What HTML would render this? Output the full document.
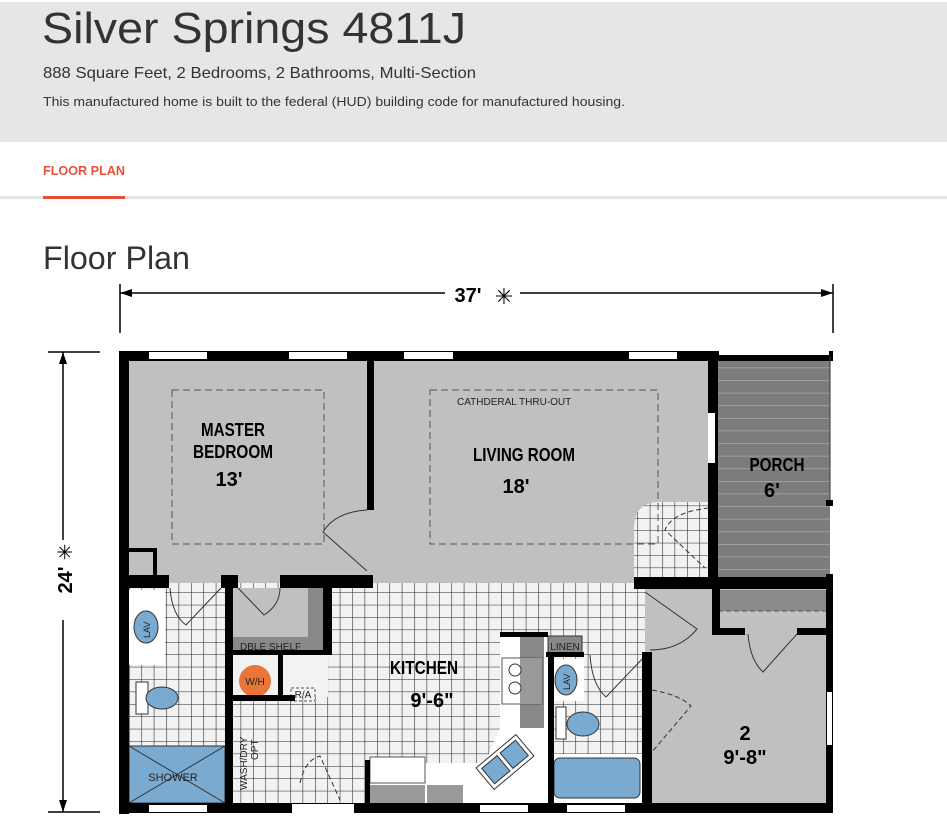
<!DOCTYPE html>
<html><head><meta charset="utf-8"><style>
html,body{margin:0;padding:0;background:#fff;width:947px;height:839px;overflow:hidden}
svg{display:block}
.r{font-family:"Liberation Sans",sans-serif}
.n{font-family:"Liberation Sans Narrow","Liberation Sans",sans-serif;font-weight:bold;fill:#000}
.s{font-family:"Liberation Sans Narrow","Liberation Sans",sans-serif;fill:#222}
</style></head><body>
<svg width="947" height="839" viewBox="0 0 947 839" xmlns="http://www.w3.org/2000/svg">
<defs>
<pattern id="t" x="129" y="580" width="12.4" height="12.4" patternUnits="userSpaceOnUse">
<rect width="12.4" height="12.4" fill="#f2f2f2"/>
<path d="M0 0H12.4M0 0V12.4" stroke="#222" stroke-width="1.1"/>
</pattern>
<pattern id="p" x="0" y="355" width="12" height="12.6" patternUnits="userSpaceOnUse">
<rect width="12" height="12.6" fill="#7b7c7e"/>
<path d="M0 0H12" stroke="#b5b5b5" stroke-width="1.2"/>
</pattern>
</defs>
<!-- header -->
<rect x="0" y="2" width="947" height="140" fill="#e6e6e6"/>
<text x="42" y="43" class="r" font-size="44" fill="#333" textLength="424" lengthAdjust="spacingAndGlyphs">Silver Springs 4811J</text>
<text x="43" y="78" class="r" font-size="16" fill="#333" textLength="433" lengthAdjust="spacingAndGlyphs">888 Square Feet, 2 Bedrooms, 2 Bathrooms, Multi-Section</text>
<text x="43" y="106" class="r" font-size="13" fill="#333" textLength="582" lengthAdjust="spacingAndGlyphs">This manufactured home is built to the federal (HUD) building code for manufactured housing.</text>
<text x="43" y="175" class="r" font-size="13" font-weight="bold" fill="#e8503a" textLength="82" lengthAdjust="spacingAndGlyphs">FLOOR PLAN</text>
<rect x="0" y="196" width="947" height="3" fill="#e4e4e4"/>
<rect x="43" y="196" width="82" height="3" fill="#e8503a"/>
<text x="43" y="269" class="r" font-size="32" fill="#333" textLength="147" lengthAdjust="spacingAndGlyphs">Floor Plan</text>

<!-- dimensions -->
<g stroke="#000" stroke-width="1.5" fill="none">
<path d="M120 284V333M833 284V333M120 293H445M520 293H833"/>
<path d="M48 352H100M48 812H100M63 352V540M63 620V812"/>
</g>
<path d="M120 293l12 -4v8z M833 293l-12 -4v8z M63 352l-4 12h8z M63 812l-4 -12h8z" fill="#000"/>
<text x="468" y="302" class="n" font-size="20" text-anchor="middle">37'</text>
<text x="504" y="304" class="r" font-size="22" text-anchor="middle">✳</text>
<text transform="translate(72,580) rotate(-90)" class="n" font-size="20" text-anchor="middle">24'</text>
<text transform="translate(72,552) rotate(-90)" class="r" font-size="20" text-anchor="middle">✳</text>

<!-- floors -->
<rect x="129" y="361" width="580" height="222" fill="#c0c0c0"/>
<rect x="129" y="583" width="516" height="222" fill="url(#t)"/>
<path d="M645 502H660Q634 502 634 528V583H709V502Z" fill="url(#t)"/>
<rect x="718" y="355" width="112" height="225" fill="url(#p)"/>
<rect x="645" y="588" width="181" height="217" fill="#c0c0c0"/>
<rect x="718" y="590" width="108" height="21" fill="#8a8a8a"/>
<path d="M718 611H826" stroke="#555" stroke-dasharray="5 3"/>
<!-- closet master -->
<rect x="233" y="588" width="95" height="62" fill="#c0c0c0"/>
<rect x="308" y="588" width="16" height="50" fill="#888"/>
<rect x="233" y="637" width="90" height="14" fill="#888"/>
<text x="240" y="650" class="s" font-size="10" fill="#222">DBLE SHELF</text>
<rect x="233" y="655" width="95" height="42" fill="#f2f2f2"/>
<circle cx="255" cy="681" r="16" fill="#e8763a"/>
<text x="255" y="685" class="s" font-size="10" text-anchor="middle">W/H</text>
<rect x="291" y="688" width="24" height="13" fill="none" stroke="#555" stroke-dasharray="3 2"/>
<text x="303" y="698" class="s" font-size="10" text-anchor="middle">R/A</text>
<text transform="translate(247,790) rotate(-90)" class="s" font-size="10">WASH/DRY</text>
<text transform="translate(258,760) rotate(-90)" class="s" font-size="10">OPT</text>
<!-- left bath -->
<rect x="129" y="590" width="36" height="75" fill="#fff"/>
<ellipse cx="146" cy="627" rx="12" ry="16" fill="#7aaad0" stroke="#333"/>
<text transform="translate(150,638) rotate(-90)" class="s" font-size="9">LAV</text>
<rect x="136" y="682" width="12" height="32" fill="#fff" stroke="#333"/>
<ellipse cx="162" cy="698" rx="16" ry="11" fill="#7aaad0" stroke="#333"/>
<rect x="129" y="746" width="96" height="57" fill="#7aaad0" stroke="#333"/>
<path d="M129 746L225 803M225 746L129 803" stroke="#333"/>
<text x="173" y="781" class="s" font-size="11" text-anchor="middle">SHOWER</text>
<!-- kitchen cabinets -->
<rect x="500" y="637" width="48" height="168" fill="#fff"/>
<rect x="520" y="637" width="24" height="150" fill="#888"/>
<rect x="502" y="658" width="40" height="46" fill="#fff" stroke="#555"/>
<rect x="520" y="658" width="22" height="46" fill="#999"/>
<circle cx="515" cy="670" r="6" fill="#fff" stroke="#333"/>
<circle cx="515" cy="688" r="6" fill="#fff" stroke="#333"/>
<path d="M500 728L548 728V805H367V763H485Z" fill="#fff"/>
<rect x="367" y="785" width="58" height="18" fill="#999"/>
<rect x="427" y="785" width="36" height="18" fill="#999"/>
<rect x="370" y="757" width="55" height="26" fill="#fff" stroke="#555"/>
<g transform="translate(505,762) rotate(-40)">
<rect x="-26" y="-14" width="52" height="28" fill="#fff" stroke="#333"/>
<rect x="-22" y="-10" width="20" height="20" fill="#7aaad0" stroke="#333"/>
<rect x="2" y="-10" width="20" height="20" fill="#7aaad0" stroke="#333"/>
</g>
<!-- center bath -->
<rect x="548" y="636" width="34" height="18" fill="#888" stroke="#333"/>
<text x="565" y="650" class="s" font-size="10" text-anchor="middle">LINEN</text>
<rect x="551" y="659" width="33" height="42" fill="#fff"/>
<ellipse cx="566" cy="680" rx="11" ry="15" fill="#7aaad0" stroke="#333"/>
<text transform="translate(570,690) rotate(-90)" class="s" font-size="9">LAV</text>
<rect x="556" y="707" width="10" height="32" fill="#fff" stroke="#333"/>
<ellipse cx="583" cy="724" rx="16" ry="12" fill="#7aaad0" stroke="#333"/>
<rect x="551" y="754" width="91" height="49" fill="#fff"/>
<rect x="554" y="758" width="86" height="40" rx="6" fill="#7aaad0" stroke="#333"/>

<!-- dashed ceilings -->
<g fill="none" stroke="#555" stroke-dasharray="7 4" stroke-width="1">
<rect x="172" y="390" width="152" height="154"/>
<rect x="430" y="390" width="228" height="154"/>
</g>
<!-- doors -->
<g fill="none" stroke="#333" stroke-width="1">
<path d="M367 510Q335 512 323 532L367 571"/>
<path d="M170 588Q172 615 186 625L221 588"/>
<path d="M238 588L264 615Q280 605 280 588"/>
<path d="M645 592L697 629Q680 650 650 650"/>
<path d="M748 634Q750 660 763 672L797 634"/>
<path d="M645 656L606 697"/>
<path d="M590 655Q592 685 606 697"/>
</g>
<g fill="none" stroke="#333" stroke-dasharray="5 3">
<path d="M709 508Q672 512 665 530L705 568"/>
<path d="M652 690Q680 695 691 706L652 752"/>
<path d="M300 783Q305 760 320 756L340 800"/>
</g>

<!-- walls -->
<g fill="#000">
<rect x="119" y="351" width="714" height="10"/>
<rect x="119" y="351" width="10" height="463"/>
<rect x="119" y="803" width="714" height="10"/>
<rect x="826" y="580" width="7" height="233"/>
<rect x="708" y="351" width="10" height="238"/>
<rect x="367" y="355" width="7" height="155"/>
<rect x="119" y="575" width="50" height="13"/>
<rect x="221" y="575" width="17" height="13"/>
<rect x="280" y="575" width="93" height="13"/>
<rect x="129" y="548" width="27" height="4"/>
<rect x="153" y="548" width="4" height="30"/>
<rect x="225" y="588" width="8" height="217"/>
<rect x="323" y="588" width="9" height="66"/>
<rect x="233" y="650" width="99" height="5"/>
<rect x="278" y="655" width="5" height="45"/>
<rect x="233" y="695" width="62" height="6"/>
<rect x="365" y="760" width="5" height="45"/>
<rect x="500" y="632" width="48" height="5"/>
<rect x="546" y="652" width="38" height="5"/>
<rect x="548" y="652" width="6" height="153"/>
<rect x="642" y="652" width="10" height="153"/>
<rect x="634" y="577" width="199" height="12"/>
<rect x="712" y="589" width="8" height="45"/>
<rect x="712" y="628" width="33" height="7"/>
<rect x="797" y="628" width="29" height="7"/>
<rect x="828" y="355" width="5" height="4"/>
<rect x="826" y="500" width="7" height="6"/>
<rect x="826" y="574" width="7" height="6"/>
</g>
<!-- windows/openings -->
<g fill="#fff">
<rect x="149" y="352" width="58" height="7"/>
<rect x="289" y="352" width="58" height="7"/>
<rect x="404" y="352" width="49" height="7"/>
<rect x="629" y="352" width="48" height="7"/>
<rect x="719" y="351" width="110" height="4"/>
<rect x="149" y="805" width="58" height="7"/>
<rect x="292" y="804" width="62" height="9"/>
<rect x="480" y="805" width="48" height="7"/>
<rect x="567" y="805" width="58" height="7"/>
<rect x="708" y="413" width="7" height="50"/>
<rect x="827" y="692" width="5" height="53"/>
</g>
<path d="M830 357V500" stroke="#333"/>

<!-- labels -->
<g class="n" font-size="18" text-anchor="middle">
<text x="233" y="436" textLength="64" lengthAdjust="spacingAndGlyphs">MASTER</text>
<text x="233" y="458" textLength="80" lengthAdjust="spacingAndGlyphs">BEDROOM</text>
<text x="229" y="486" font-size="20">13'</text>
<text x="524" y="461" textLength="102" lengthAdjust="spacingAndGlyphs">LIVING ROOM</text>
<text x="516" y="493" font-size="20">18'</text>
<text x="777" y="471" textLength="55" lengthAdjust="spacingAndGlyphs">PORCH</text>
<text x="772" y="497" font-size="20">6'</text>
<text x="424" y="674" textLength="68" lengthAdjust="spacingAndGlyphs">KITCHEN</text>
<text x="432" y="707" font-size="20">9'-6"</text>
<text x="745" y="740" font-size="20">2</text>
<text x="745" y="764" font-size="20">9'-8"</text>
</g>
<text x="457" y="405" class="s" font-size="10">CATHDERAL  THRU-OUT</text>
</svg>
</body></html>
